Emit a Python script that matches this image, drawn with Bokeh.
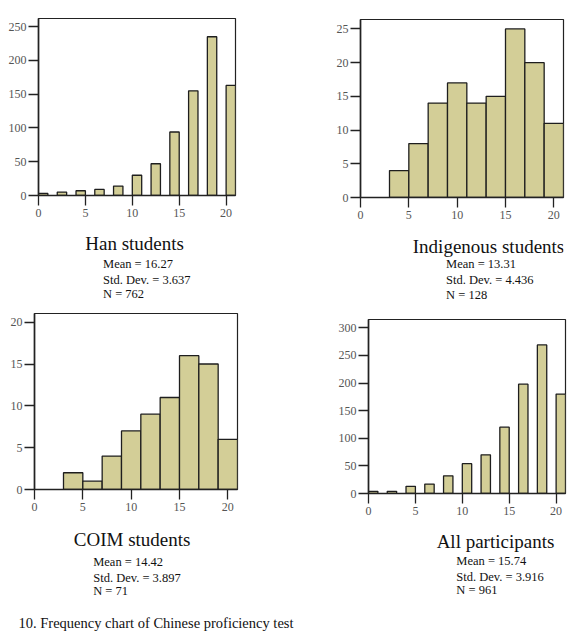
from bokeh.plotting import figure
from bokeh.models import Label, Range1d, FixedTicker
from bokeh.layouts import row, column
from bokeh.embed import file_html
from bokeh.resources import INLINE

# ---------------- data ----------------
x_ticks = [0, 5, 10, 15, 20]

han_bins = [0, 2, 4, 6, 8, 10, 12, 14, 16, 18, 20]
han_counts = [3, 5, 7, 9, 14, 30, 47, 94, 155, 235, 163]
han_yticks = [0, 50, 100, 150, 200, 250]
han_stats = ["Mean = 16.27", "Std. Dev. = 3.637", "N = 762"]

indig_bins = [3, 5, 7, 9, 11, 13, 15, 17, 19]
indig_counts = [4, 8, 14, 17, 14, 15, 25, 20, 11]
indig_yticks = [0, 5, 10, 15, 20, 25]
indig_stats = ["Mean = 13.31", "Std. Dev. = 4.436", "N = 128"]

coim_bins = [3, 5, 7, 9, 11, 13, 15, 17, 19]
coim_counts = [2, 1, 4, 7, 9, 11, 16, 15, 6]
coim_yticks = [0, 5, 10, 15, 20]
coim_stats = ["Mean = 14.42", "Std. Dev. = 3.897", "N = 71"]

all_bins = [0, 2, 4, 6, 8, 10, 12, 14, 16, 18, 20]
all_counts = [4, 4, 13, 17, 32, 54, 70, 120, 198, 269, 180]
all_yticks = [0, 50, 100, 150, 200, 250, 300]
all_stats = ["Mean = 15.74", "Std. Dev. = 3.916", "N = 961"]

titles = ["Han students", "Indigenous students", "COIM students", "All participants"]
caption = "10. Frequency chart of Chinese proficiency test"

# ---------------- style ----------------
SERIF = "Liberation Serif"
BAR_FILL = "#d3ce97"
BAR_LINE = "#1e1e1e"
INK = "#222222"
XMAX = 21
W = 287


def hist(H, fl, fr, ft, fb, ymax, yticks, bins, counts, bar_w):
    p = figure(width=W, height=H, x_range=Range1d(0, XMAX), y_range=Range1d(0, ymax),
               output_backend="svg", toolbar_location=None,
               min_border_left=fl, min_border_right=W - fr,
               min_border_top=ft, min_border_bottom=H - fb)
    p.grid.visible = False
    p.background_fill_color = "white"
    p.border_fill_color = "white"
    p.outline_line_color = INK
    p.outline_line_width = 1.2

    p.quad(left=bins, right=[b + bar_w for b in bins], bottom=0, top=counts,
           fill_color=BAR_FILL, line_color=BAR_LINE, line_width=1.3)

    p.xaxis.ticker = FixedTicker(ticks=x_ticks)
    p.yaxis.ticker = FixedTicker(ticks=yticks)
    for ax in (p.xaxis, p.yaxis):
        ax.major_tick_out = 10
        ax.major_tick_in = 0
        ax.minor_tick_out = 0
        ax.minor_tick_in = 0
        ax.axis_line_width = 1.6
        ax.axis_line_color = INK
        ax.major_tick_line_color = INK
        ax.major_tick_line_width = 1.3
        ax.major_label_text_font = SERIF
        ax.major_label_text_font_size = "12px"
        ax.major_label_text_color = "#555555"
    p.xaxis.major_label_standoff = 3
    p.yaxis.major_label_standoff = 2
    return p


def text_box(width, H):
    t = figure(width=width, height=H, x_range=Range1d(0, width), y_range=Range1d(0, H),
               x_axis_location=None, y_axis_location=None, min_border=0,
               output_backend="svg", toolbar_location=None)
    t.outline_line_color = None
    t.grid.visible = False
    t.background_fill_color = "white"
    t.border_fill_color = "white"
    return t


def stats_box(H, title, stats, title_cx, title_base, stats_x, stats_bases):
    t = text_box(W, H)
    t.add_layout(Label(x=title_cx, y=H - title_base, text=title,
                       text_font=SERIF, text_font_size="19px", text_color="#111111",
                       text_align="center", text_baseline="alphabetic"))
    for s, b in zip(stats, stats_bases):
        t.add_layout(Label(x=stats_x, y=H - b, text=s,
                           text_font=SERIF, text_font_size="12.5px", text_color="#111111",
                           text_align="left", text_baseline="alphabetic"))
    return t


p1 = hist(224, 38, 235, 18, 195, 262, han_yticks, han_bins, han_counts, 1)
t1 = stats_box(76, titles[0], han_stats, 140, 19, 94, [39, 55, 69])

p2 = hist(225, 73, 276, 19, 197, 26.4, indig_yticks, indig_bins, indig_counts, 2)
t2 = stats_box(75, titles[1], indig_stats, 181, 21, 121, [38, 54, 69])

p3 = hist(218, 34, 237, 13, 189, 21.04, coim_yticks, coim_bins, coim_counts, 2)
t3 = stats_box(95, titles[2], coim_stats, 138, 21, 83, [43, 59, 72])

p4 = hist(222, 81, 278, 19, 193, 315, all_yticks, all_bins, all_counts, 1)
t4 = stats_box(91, titles[3], all_stats, 185, 19, 128, [38, 54, 67])

cap = text_box(574, 19)
cap.add_layout(Label(x=18, y=18, text=caption, text_font=SERIF, text_font_size="14.5px",
                     text_color="#111111", text_align="left", text_baseline="top"))

layout = column(row(column(p1, t1), column(p2, t2)),
                row(column(p3, t3), column(p4, t4)),
                cap)
open("out.html", "w").write(file_html(layout, INLINE))
